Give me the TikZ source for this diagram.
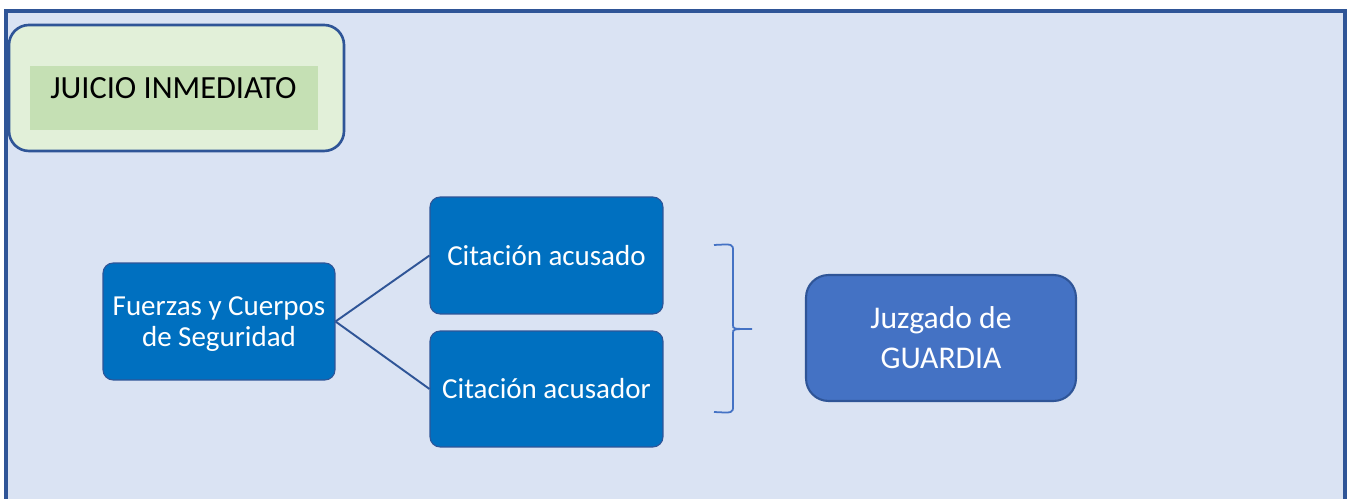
\documentclass[tikz,border=0pt]{standalone}
\usepackage{fontspec}
\setmainfont{Carlito}
\usepackage{xcolor}
\usepackage{tikz}
\usetikzlibrary{positioning}
\definecolor{fondo}{HTML}{DAE3F3}
\definecolor{marco}{HTML}{2F5597}
\definecolor{verdeclaro}{HTML}{E2F0D9}
\definecolor{verde}{HTML}{C5E0B4}
\definecolor{azul}{HTML}{0070C0}
\definecolor{azulmedio}{HTML}{4472C4}
\newcommand{\cajafont}{\fontsize{16.5}{17.5}\selectfont}

\begin{document}
\begin{tikzpicture}[x=0.02cm, y=-0.02cm,
  caja/.style={draw=marco, line width=0.6pt, fill=azul, rounded corners=0.2cm, text=white, align=center,
    minimum width=4.66cm, minimum height=2.34cm, inner sep=2pt, font=\cajafont},
  juzgado/.style={draw=marco, line width=1.2pt, fill=azulmedio, rounded corners=0.45cm, text=white, align=center,
    minimum width=5.4cm, minimum height=2.52cm, font=\fontsize{18}{22.7}\selectfont},
  enlace/.style={draw=marco, line width=1.1pt}]
  \clip (0,0) rectangle (1350,499);
  \fill[white] (0,0) rectangle (1350,499);
  \draw[marco, line width=1.8pt, fill=fondo] (6,520) -- (6,11) -- (1345,11) -- (1345,520);
  % titulo
  \draw[marco, line width=1.5pt, fill=verdeclaro, rounded corners=0.4cm] (9,25) rectangle (344,151);
  \fill[verde] (30,66) rectangle (318,130);
  \node[anchor=base west, inner sep=0pt, font=\fontsize{18.4}{22}\selectfont] (titulo) at (50,98.5) {JUICIO INMEDIATO};
  % cajas
  \node[caja, minimum width=4.64cm, text depth=0pt] (fuerzas) at (219,321.5) {Fuerzas y Cuerpos\\de Seguridad};
  \node[caja] (acusado) at (546.5,255.5) {Citación acusado};
  \node[caja, minimum height=2.32cm] (acusador) at (546.5,389) {Citación acusador};
  \node[juzgado] (guardia) at (941,338) {Juzgado de\\GUARDIA};
  \draw[enlace] (fuerzas.east) -- (acusado.west);
  \draw[enlace] (fuerzas.east) -- (acusador.west);
  % llave
  \draw[azulmedio, line width=1pt] (714,245) .. controls (733,244) .. (733,251) -- (733,325)
    .. controls (733,329) .. (752,329) .. controls (733,329) .. (733,333) -- (733,406)
    .. controls (733,413) .. (714,412);
\end{tikzpicture}
\end{document}
